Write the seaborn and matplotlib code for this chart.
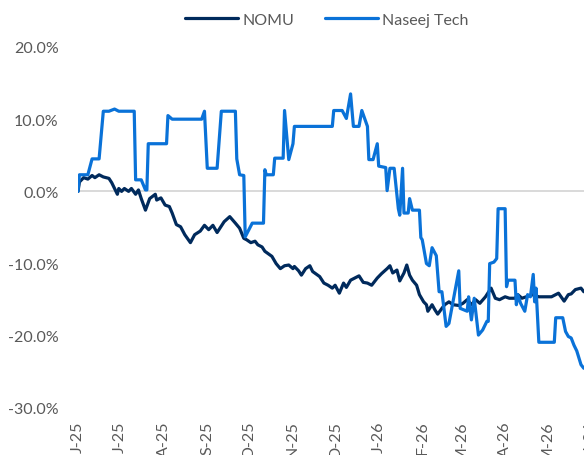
import pandas as pd
import numpy as np
import matplotlib
matplotlib.use("Agg")
import matplotlib.pyplot as plt
import matplotlib.dates as mdates
from matplotlib.ticker import PercentFormatter
import seaborn as sns

# days after 1 Jun 2025 and cumulative return (%)
start = pd.Timestamp("2025-06-01")

nomu_days = [0, 1, 4, 7, 10, 12, 15, 18, 22, 24, 26, 28, 29, 31, 33, 36, 38, 41, 43, 45,
             48, 51, 55, 56, 59, 62, 65, 67, 70, 73, 76, 80, 83, 87, 90, 93, 96, 99, 101, 104,
             108, 112, 115, 118, 120, 123, 126, 128, 131, 133, 138, 141, 144, 147, 150, 153, 154, 157, 159, 162,
             165, 167, 172, 175, 178, 181, 183, 186, 189, 191, 194, 197, 200, 203, 206, 209, 213, 216, 220, 222,
             224, 227, 229, 232, 234, 236, 238, 241, 243, 246, 248, 249, 252, 254, 256, 259, 261, 264, 267, 271,
             274, 277, 280, 283, 286, 290, 294, 297, 300, 304, 307, 311, 313, 316, 319, 323, 328, 337, 342, 346,
             349, 351, 354, 358, 360]
nomu_ret = [0.0, 1.3, 1.9, 1.7, 2.2, 1.9, 2.3, 2.0, 1.8, 1.2, 0.4, -0.4, 0.4, 0.0, 0.4, 0.0, 0.4, -0.4, 0.2, -1.0,
            -2.6, -1.0, -0.4, -1.2, -0.9, -1.9, -2.1, -3.0, -4.6, -4.9, -6.0, -7.1, -6.0, -5.5, -4.7, -5.3, -4.7, -5.7, -5.1, -4.2,
            -3.5, -4.4, -5.1, -6.5, -6.7, -7.1, -6.9, -7.4, -7.7, -8.3, -9.0, -10.0, -10.7, -10.3, -10.2, -10.7, -10.4, -11.0, -11.6, -10.7,
            -10.3, -11.1, -11.8, -12.7, -13.0, -13.4, -13.0, -14.1, -12.7, -13.3, -12.3, -12.0, -11.7, -12.6, -12.7, -13.0, -12.0, -11.4, -10.7, -10.3,
            -11.3, -10.9, -12.4, -11.3, -10.2, -11.6, -12.3, -13.0, -14.3, -15.3, -15.7, -16.6, -15.7, -16.4, -17.0, -16.2, -15.7, -15.3, -15.7, -15.8,
            -15.5, -15.0, -15.7, -15.0, -15.5, -14.6, -13.4, -14.8, -15.0, -14.6, -14.8, -14.8, -14.3, -14.8, -14.6, -14.3, -14.6, -14.6, -14.1, -15.2,
            -14.3, -14.2, -13.6, -13.4, -13.9]

naseej_days = [0, 1, 7, 10, 15, 18, 22, 26, 29, 40, 41, 45, 48, 49, 50, 63, 64, 67, 88, 90,
               92, 99, 102, 112, 113, 115, 118, 119, 124, 132, 133, 134, 139, 140, 146, 147, 150, 153, 154, 181,
               182, 188, 191, 194, 196, 200, 202, 206, 207, 210, 213, 214, 219, 220, 222, 225, 228, 229, 231, 232,
               235, 236, 238, 243, 244, 245, 248, 250, 252, 255, 257, 259, 262, 264, 271, 272, 277, 278, 280, 282,
               285, 288, 291, 292, 293, 296, 298, 299, 304, 305, 306, 311, 312, 313, 315, 318, 320, 322, 324, 325,
               326, 328, 339, 340, 345, 347, 349, 351, 353, 355, 358, 360]
naseej_ret = [0.0, 2.3, 2.3, 4.5, 4.5, 11.1, 11.1, 11.4, 11.1, 11.1, 1.6, 1.6, 0.2, 0.2, 6.6, 6.6, 10.5, 10.0, 10.0, 11.1,
              3.2, 3.2, 11.1, 11.1, 4.5, 2.3, 2.2, -6.3, -4.4, -4.4, 3.0, 2.3, 2.3, 4.6, 4.6, 11.2, 4.4, 6.6, 9.0, 9.0,
              11.2, 11.2, 10.1, 13.5, 9.0, 9.0, 11.2, 9.0, 4.4, 4.4, 6.6, 3.5, 3.3, 0.1, 3.2, 3.2, -2.4, -3.3, 3.2, -3.0,
              -3.0, -1.0, -2.6, -2.6, -6.4, -6.7, -10.0, -10.3, -7.8, -8.9, -13.9, -13.9, -18.7, -18.3, -11.0, -16.2, -16.6, -14.6, -17.8, -14.8,
              -19.9, -19.2, -18.0, -18.0, -10.0, -9.8, -9.3, -2.4, -2.4, -13.2, -12.3, -12.3, -15.7, -14.3, -15.5, -16.6, -14.3, -14.6, -11.5, -15.3,
              -13.4, -20.9, -20.9, -17.5, -17.5, -19.4, -20.1, -20.3, -21.3, -22.1, -24.0, -24.5]

series_names = ["NOMU", "Naseej Tech"]
colors = ["#002A5C", "#0A72D8"]

df = pd.concat([
    pd.DataFrame({"date": start + pd.to_timedelta(nomu_days, unit="D"), "ret": nomu_ret, "series": "NOMU"}),
    pd.DataFrame({"date": start + pd.to_timedelta(naseej_days, unit="D"), "ret": naseej_ret, "series": "Naseej Tech"}),
])

sns.set_theme(style="white")
plt.rcParams["font.family"] = ["Lato", "DejaVu Sans"]
plt.rcParams["axes.unicode_minus"] = False
txt = "#595959"

fig = plt.figure(figsize=(5.84, 4.56), dpi=100)
ax = fig.add_axes([0.1336, 0.1031, 0.8805, 0.7917])

ax.axhline(0, color="#d9d9d9", lw=1.4, zorder=0)
sns.lineplot(data=df, x="date", y="ret", hue="series", hue_order=series_names,
             palette=colors, linewidth=2.3, estimator=None, ax=ax)

ax.set_ylim(-30, 20)
ax.set_yticks(np.arange(-30, 21, 10))
ax.yaxis.set_major_formatter(PercentFormatter(decimals=1))
ax.set_xlim(start, start + pd.Timedelta(days=366))
ax.xaxis.set_major_locator(mdates.MonthLocator())
ax.xaxis.set_major_formatter(plt.FuncFormatter(
    lambda v, p: mdates.num2date(v).strftime("%b")[0] + "-" + mdates.num2date(v).strftime("%y")))
ax.tick_params(axis="x", rotation=90, length=0, pad=9, labelsize=11.5, labelcolor=txt)
ax.tick_params(axis="y", length=0, pad=14, labelsize=11.5, labelcolor=txt)
for lab in ax.get_xticklabels():
    lab.set_va("top")
ax.set_xlabel("")
ax.set_ylabel("")
sns.despine(ax=ax, left=True, bottom=True)

handles, labels = ax.get_legend_handles_labels()
ax.get_legend().remove()
fig.legend(handles, labels, loc="center", bbox_to_anchor=(0.56, 0.954), ncol=2, frameon=False,
           fontsize=11.5, labelcolor=txt, handlelength=3.3, handletextpad=0.3, columnspacing=1.9)

fig.savefig("out.png", dpi=100)
